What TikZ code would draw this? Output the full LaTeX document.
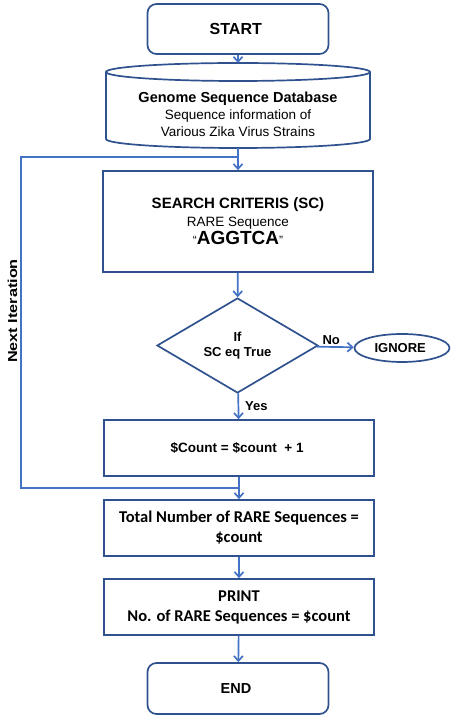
\documentclass[tikz,border=0pt]{standalone}
\usepackage{fontspec}
\setmainfont{Liberation Sans}
\newfontfamily\calibrifont{Carlito}
\usetikzlibrary{arrows.meta,positioning,shapes.geometric}
\definecolor{boxblue}{RGB}{47,82,143}
\definecolor{lineblue}{RGB}{68,114,196}

\begin{document}
\begin{tikzpicture}[x=1pt, y=1pt,
    >={Straight Barb[length=5pt,width=9pt]},
    every node/.style={
        inner sep=2pt,
        align=center,
        text=black,
        font=\bfseries\fontsize{13}{15}\selectfont
    },
    stepbox/.style={
        rectangle,
        draw=boxblue,
        line width=1.7pt,
        minimum width=270pt,
        minimum height=56pt
    },
    terminal/.style={stepbox, rounded corners=9pt, minimum width=181pt, minimum height=50pt},
    flow/.style={->, lineblue, line width=1.7pt}
]
    \useasboundingbox (0,0) rectangle (454,718);
    \node (start) [terminal, shift={(238, 689)}, font=\bfseries\fontsize{16}{18}\selectfont]
    {
        START
    };
    % database drum
    \draw[boxblue, line width=1.7pt] (238,646) ellipse [x radius=132pt, y radius=9pt];
    \draw[boxblue, line width=1.7pt] (106,646) -- (106,579)
        arc [start angle=180, end angle=360, x radius=132pt, y radius=9pt] -- (370,646);
    \coordinate (database_top) at (238,655);
    \coordinate (database_bottom) at (238,570);
    \node (database) [shift={(238, 604)}, font=\fontsize{13.5}{17}\selectfont]
    {
        {\bfseries\fontsize{14.5}{17}\selectfont Genome Sequence Database}\\
        Sequence information of\\
        Various Zika Virus Strains
    };
    \node (search) [stepbox, minimum height=101pt, shift={(238, 496.5)}, font=\bfseries\fontsize{15}{18}\selectfont]
    {
        SEARCH CRITERIS (SC)\\
        {\mdseries\fontsize{13.5}{18}\selectfont RARE Sequence}\\
        {\mdseries\fontsize{12}{18}\selectfont``}{\fontsize{19}{19}\selectfont AGGTCA}{\mdseries\fontsize{12}{18}\selectfont''}
    };
    \node (decision) [diamond, draw=boxblue, line width=1.7pt, aspect=1.7, inner sep=0pt,
        minimum width=161pt, minimum height=95pt, shift={(237.5, 372.5)}]
    {
        If\\
        SC eq True
    };
    \node (ignore) [ellipse, draw=boxblue, line width=1.7pt, minimum width=95pt, minimum height=28pt,
        shift={(402, 370)}]
    {
        IGNORE
    };
    \node (count) [stepbox, shift={(239, 270)}, font=\bfseries\fontsize{13.5}{16}\selectfont]
    {
        \$Count = \$count \ + 1
    };
    \node (total) [stepbox, shift={(239, 190)}, font=\calibrifont\bfseries\fontsize{16.5}{20}\selectfont]
    {
        Total Number of RARE Sequences =\\
        \$count
    };
    \node (print) [stepbox, shift={(239, 111)}, font=\calibrifont\bfseries\fontsize{16.5}{20}\selectfont]
    {
        PRINT\\
        No. of RARE Sequences = \$count
    };
    \node (end) [terminal, minimum height=51pt, shift={(238, 29.5)}, font=\bfseries\fontsize{14.5}{17}\selectfont]
    {
        END
    };
    % next iteration loop
    \coordinate (loop_top) at (238,561);
    \coordinate (loop_bottom) at (238,230);
    \coordinate (loop_left) at (21,230);
    \node (next_iteration) [rotate=90, inner sep=0pt] at (12.5, 407) {\scalebox{1.25}[1]{Next Iteration}};
    \draw[flow] (start) to (database_top);
    \draw[flow] (database_bottom) to (search);
    \draw[flow] (search) to (decision);
    \draw[flow] (decision) to node [above, xshift=-4pt] (no_label) {No} (ignore);
    \draw[flow] (decision) to node [right, xshift=4pt] (yes_label) {Yes} (count);
    \draw[flow] (count) to (total);
    \draw[flow] (total) to (print);
    \draw[flow] (print) to (end);
    \draw[lineblue, line width=1.7pt] (loop_bottom) -- (loop_left) |- (loop_top);
\end{tikzpicture}
\end{document}
